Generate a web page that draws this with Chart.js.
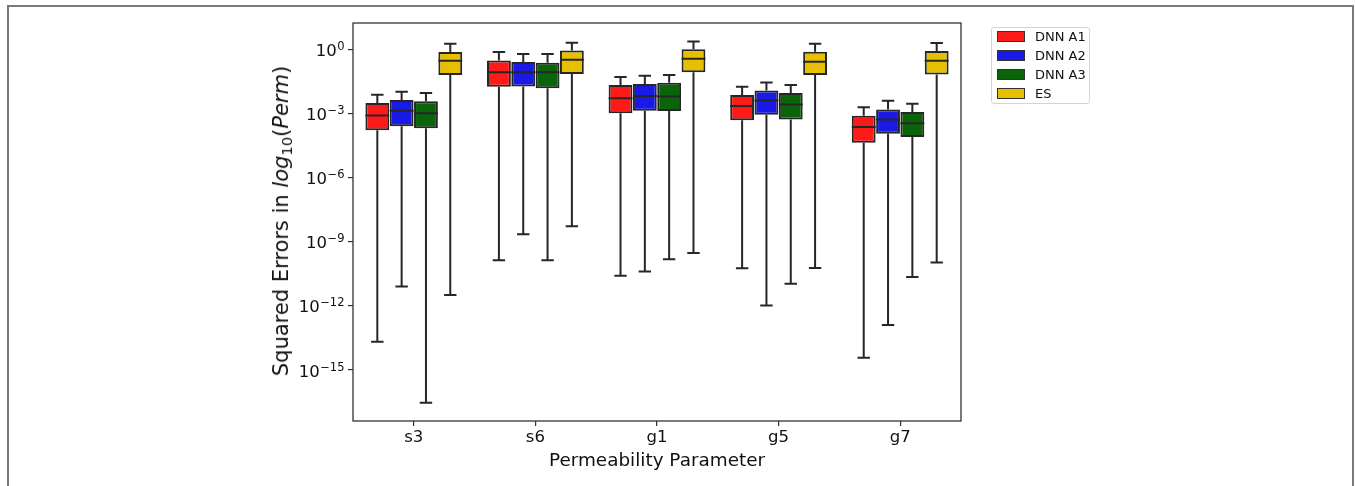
<!DOCTYPE html>
<html><head><meta charset="utf-8">
<script src="https://cdn.jsdelivr.net/npm/chart.js@4.4.0/dist/chart.umd.min.js"></script>
<style>
html,body{margin:0;padding:0;background:#fff;}
#wrap{position:relative;width:1356px;height:486px;overflow:hidden;font-family:'DejaVu Sans',sans-serif;color:#111;}
#frame{position:absolute;left:7px;top:5px;width:1347px;height:500px;border:2px solid #7a7a7a;border-bottom:none;box-sizing:border-box;}
#c{position:absolute;left:0;top:0;}
#ylab{position:absolute;left:281px;top:221px;transform:translate(-50%,-50%) rotate(-90deg);white-space:nowrap;font-size:21px;}
#ylab sub{font-size:0.7em;vertical-align:-0.25em;line-height:0;}
#legend{position:absolute;left:991px;top:27px;width:99px;height:77px;border:1px solid #d4d4d4;border-radius:3px;box-sizing:border-box;background:#fff;}
.li{position:absolute;left:5px;height:19px;display:flex;align-items:center;font-size:13px;}
.sw{width:26px;height:9px;border:1.5px solid #333;margin-right:10px;}
</style></head>
<body><div id="wrap">
<div id="frame"></div>
<canvas id="c" width="1356" height="486"></canvas>
<div id="ylab">Squared Errors in <i>log</i><sub>10</sub>(<i>Perm</i>)</div>
<div id="legend"></div>
</div>
<script>
// categories
const categories = ['s3', 's6', 'g1', 'g5', 'g7'];
// series names and colours
const seriesNames = ['DNN A1', 'DNN A2', 'DNN A3', 'ES'];
const seriesColors = ['#ff1a1a', '#1a1ae6', '#0a640a', '#e6c000'];
// each row: [whisker low, Q1, median, Q3, whisker high], one row per category
const dnnA1 = [
  [2.1e-14, 1.7e-4, 8.3e-4, 3.16e-3, 7.8e-3],
  [1.4e-10, 0.0186, 0.089, 0.316, 0.78],
  [2.6e-11, 1.05e-3, 5.4e-3, 0.022, 0.052],
  [5.9e-11, 5.0e-4, 2.3e-3, 7.6e-3, 0.0186],
  [3.8e-15, 4.4e-5, 2.4e-4, 8.1e-4, 2.0e-3]
];
const dnnA2 = [
  [8.1e-12, 2.6e-4, 1.4e-3, 4.4e-3, 1.07e-2],
  [2.3e-9, 0.019, 0.089, 0.263, 0.63],
  [4.1e-11, 1.4e-3, 6.8e-3, 0.0245, 0.060],
  [1.05e-12, 8.9e-4, 4.2e-3, 0.0123, 0.0295],
  [1.3e-13, 1.15e-4, 5.4e-4, 1.6e-3, 4.1e-3]
];
const dnnA3 = [
  [2.95e-17, 2.1e-4, 1.07e-3, 3.9e-3, 9.5e-3],
  [1.4e-10, 0.0158, 0.087, 0.245, 0.63],
  [1.55e-10, 1.35e-3, 6.5e-3, 0.028, 0.065],
  [1.1e-11, 5.4e-4, 2.75e-3, 9.5e-3, 0.022],
  [2.3e-11, 8.1e-5, 3.6e-4, 1.2e-3, 2.95e-3]
];
const es = [
  [3.3e-12, 0.065, 0.30, 0.78, 1.9],
  [5.4e-9, 0.072, 0.34, 0.93, 2.14],
  [3.0e-10, 0.087, 0.38, 1.05, 2.45],
  [6.0e-11, 0.065, 0.275, 0.81, 1.9],
  [1.07e-10, 0.069, 0.30, 0.87, 2.04]
];
// y ticks
const yTickValues = [1, 1e-3, 1e-6, 1e-9, 1e-12, 1e-15];
const yTickExponents = ['0', '\u22123', '\u22126', '\u22129', '\u221212', '\u221215'];
const yMin = 4.1e-18, yMax = 17.8;

const allSeries = [dnnA1, dnnA2, dnnA3, es];
const EDGE = '#262626';

// legend
const lg = document.getElementById('legend');
seriesNames.forEach((n, i) => {
  const d = document.createElement('div');
  d.className = 'li';
  d.style.top = (-1 + i * 19) + 'px';
  d.innerHTML = '<span class="sw" style="background:' + seriesColors[i] + '"></span><span>' + n + '</span>';
  lg.appendChild(d);
});

Chart.defaults.font.family = "'DejaVu Sans', sans-serif";
Chart.defaults.color = '#111';

const boxExtras = {
  id: 'boxExtras',
  afterDatasetsDraw(chart) {
    const ctx = chart.ctx, y = chart.scales.y;
    ctx.save();
    ctx.strokeStyle = EDGE;
    ctx.lineWidth = 2;
    chart.data.datasets.forEach((ds, di) => {
      const meta = chart.getDatasetMeta(di);
      meta.data.forEach((bar, i) => {
        const s = ds.stats[i];
        const x = bar.x, w = bar.width, cw = w * 0.52;
        const pMin = y.getPixelForValue(s[0]);
        const pQ1 = y.getPixelForValue(s[1]);
        const pMed = y.getPixelForValue(s[2]);
        const pQ3 = y.getPixelForValue(s[3]);
        const pMax = y.getPixelForValue(s[4]);
        ctx.beginPath();
        ctx.moveTo(x, pQ1); ctx.lineTo(x, pMin);
        ctx.moveTo(x, pQ3); ctx.lineTo(x, pMax);
        ctx.moveTo(x - cw / 2, pMin); ctx.lineTo(x + cw / 2, pMin);
        ctx.moveTo(x - cw / 2, pMax); ctx.lineTo(x + cw / 2, pMax);
        ctx.moveTo(x - w / 2, pMed); ctx.lineTo(x + w / 2, pMed);
        ctx.stroke();
      });
    });
    ctx.restore();
  },
  afterDraw(chart) {
    const ctx = chart.ctx, a = chart.chartArea, y = chart.scales.y;
    ctx.save();
    ctx.strokeStyle = '#333';
    ctx.lineWidth = 1.3;
    ctx.strokeRect(a.left, a.top, a.right - a.left, a.bottom - a.top);
    ctx.fillStyle = '#111';
    ctx.textAlign = 'left';
    ctx.textBaseline = 'alphabetic';
    y.ticks.forEach((t, i) => {
      const py = y.getPixelForValue(t.value);
      const ex = yTickExponents[i];
      ctx.font = "11.5px 'DejaVu Sans'";
      const ew = ctx.measureText(ex).width;
      ctx.font = "16.5px 'DejaVu Sans'";
      const bw = ctx.measureText('10').width;
      const right = a.left - 8.5;
      ctx.fillText('10', right - ew - bw - 0.5, py + 6.5);
      ctx.font = "11.5px 'DejaVu Sans'";
      ctx.fillText(ex, right - ew, py + 0.5);
    });
    ctx.restore();
  }
};

new Chart(document.getElementById('c'), {
  type: 'bar',
  data: {
    labels: categories,
    datasets: allSeries.map((ser, i) => ({
      label: seriesNames[i],
      data: ser.map(r => [r[1], r[3]]),
      stats: ser,
      backgroundColor: seriesColors[i],
      borderColor: EDGE,
      borderWidth: 2,
      borderSkipped: false,
      categoryPercentage: 0.8,
      barPercentage: 0.98
    }))
  },
  options: {
    responsive: false,
    animation: false,
    devicePixelRatio: 1,
    layout: { padding: { left: 348, right: 395, top: 23, bottom: 14 } },
    plugins: { legend: { display: false }, tooltip: { enabled: false } },
    scales: {
      x: {
        offset: true,
        grid: { offset: false, drawOnChartArea: false, drawTicks: true, tickLength: 5, color: '#333', lineWidth: 1.2 },
        border: { display: false },
        ticks: { font: { size: 16.5 }, padding: 2, color: '#111' },
        title: { display: true, text: 'Permeability Parameter', font: { size: 18.4 }, padding: { top: 0, bottom: 0 }, color: '#111' },
        afterFit: s => { s.height = 51; }
      },
      y: {
        type: 'logarithmic',
        min: yMin,
        max: yMax,
        afterBuildTicks: s => { s.ticks = yTickValues.map(v => ({ value: v })); },
        grid: { drawOnChartArea: false, drawTicks: true, tickLength: 5, color: '#333', lineWidth: 1.2 },
        border: { display: false },
        ticks: { display: false },
        afterFit: s => { s.width = 5; }
      }
    }
  },
  plugins: [boxExtras]
});
</script>
</body></html>
